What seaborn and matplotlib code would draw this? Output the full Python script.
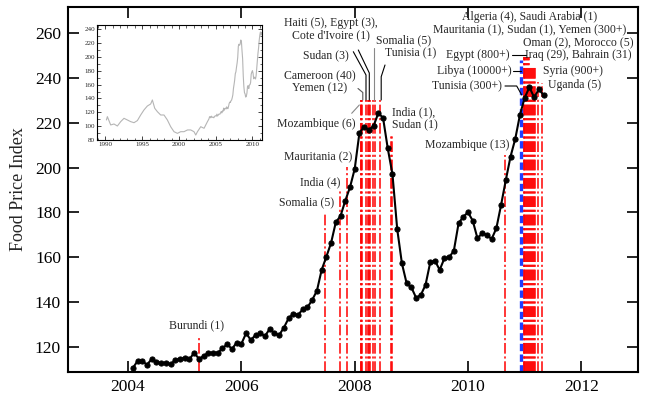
import numpy as np
import pandas as pd
import matplotlib
matplotlib.use("Agg")
import matplotlib.pyplot as plt
import seaborn as sns
from matplotlib.lines import Line2D

# ---------------- data ----------------
# Monthly FAO Food Price Index, Feb 2004 .. May 2011
start_year = 2004
start_month = 2
fpi = [110.4, 113.6, 113.6, 112.0, 114.4, 113.3, 112.6, 112.9, 112.1, 114.1, 114.6,
       115.0, 114.4, 117.3, 114.6, 115.8, 117.3, 117.3, 117.3, 119.3, 121.1, 119.0, 121.8,
       121.3, 126.0, 123.0, 125.2, 126.0, 124.8, 127.9, 126.0, 125.2, 128.5, 132.7, 134.7,
       134.2, 136.7, 137.6, 140.9, 145.0, 154.3, 160.2, 166.4, 175.6, 178.4, 185.2, 191.2,
       199.4, 215.5, 218.3, 216.8, 218.7, 224.3, 222.3, 208.6, 197.0, 172.6, 157.2, 148.3,
       146.5, 141.9, 143.1, 147.6, 157.7, 158.4, 154.3, 159.5, 159.9, 162.9, 175.1, 178.1,
       180.0, 176.3, 168.4, 170.7, 169.9, 168.1, 172.9, 183.3, 194.4, 204.9, 212.8, 223.6,
       231.2, 235.9, 231.4, 235.0, 232.4]

# Riot events (date, top of marker line)
event_dates = [2005.252, 2007.481, 2007.746, 2007.862,
               2008.105, 2008.118, 2008.134, 2008.205, 2008.228, 2008.25, 2008.262,
               2008.33, 2008.351, 2008.44, 2008.645, 2008.655,
               2010.661,
               2010.98, 2010.995, 2011.01, 2011.025, 2011.04, 2011.055, 2011.07,
               2011.10, 2011.115, 2011.13, 2011.145, 2011.16, 2011.175,
               2011.232, 2011.309]
event_tops = [124.8, 180.3, 190.0, 200.3,
              230.0, 230.0, 230.0, 230.0, 230.0, 230.0, 230.0,
              230.0, 230.0, 230.0, 214.6, 214.6,
              205.6,
              249.3, 249.3, 249.3, 249.3, 249.3, 249.3, 249.3,
              245.1, 245.1, 245.1, 245.1, 245.1, 245.1,
              238.4, 237.7]
blue_date = 2010.938
blue_top = 248.1

# Inset: long-run index 1990-2003 (2004 on is the main series)
inset_years_early = [1990.14, 1990.27, 1990.72, 1991.17, 1991.63, 1992.08, 1992.53, 1992.99,
                     1993.44, 1993.89, 1994.35, 1994.80, 1995.25, 1995.71, 1996.16, 1996.39,
                     1996.71, 1997.07, 1997.52, 1997.97, 1998.43, 1998.88, 1999.33, 1999.80,
                     2000.24, 2000.69, 2001.16, 2001.61, 2002.05, 2002.29, 2002.52, 2002.97,
                     2003.42, 2003.88]
inset_vals_early = [108.9, 113.7, 101.7, 103.1, 100.2, 106.5, 111.3, 108.9,
                    106.5, 105.0, 108.0, 116.1, 123.4, 129.1, 132.0, 137.8,
                    125.8, 120.9, 116.1, 116.1, 108.9, 99.2, 92.0, 89.6,
                    92.0, 92.0, 94.5, 94.5, 92.0, 87.2, 92.0, 99.2,
                    96.9, 106.5]

dates = start_year + (start_month - 1 + np.arange(len(fpi))) / 12.0
main_df = pd.DataFrame({"date": dates, "fpi": fpi})
inset_df = pd.DataFrame({"year": list(inset_years_early) + list(dates),
                         "value": list(inset_vals_early) + list(fpi)})

# ---------------- style ----------------
sns.set_theme(style="ticks")
plt.rcParams["font.family"] = ["Liberation Serif", "DejaVu Serif"]
plt.rcParams["axes.linewidth"] = 1.5

W, H = 645, 399
fig = plt.figure(figsize=(W / 100, H / 100), dpi=100)
ax = fig.add_axes([68 / W, 1 - 372 / H, (638 - 68) / W, (372 - 7) / H])
XL = (2002.94, 2013.0)
YL = (108.7, 271.75)
ax.set_xlim(*XL)
ax.set_ylim(*YL)

ax.vlines(event_dates, YL[0], event_tops, colors="#ff0000",
          linestyles=[(0, (7, 1.8, 1.4, 1.8))], linewidth=1.1, zorder=1)
ax.vlines([blue_date], YL[0], [blue_top], colors="#1f3cff",
          linestyles=[(0, (2.2, 1.0))], linewidth=2.4, zorder=2)

sns.lineplot(data=main_df, x="date", y="fpi", ax=ax, color="black", linewidth=1.5,
             marker="o", markersize=3.7, markeredgecolor="black", estimator=None, zorder=3)

ax.set_xticks([2004, 2006, 2008, 2010, 2012])
ax.set_yticks(range(120, 261, 20))
ax.tick_params(direction="in", length=8, width=1.2, top=True, right=True,
               labelsize=12.5, pad=5, colors="black")
ax.set_xlabel("")
ax.set_ylabel("Food Price Index", fontsize=13, labelpad=6)
for s in ax.spines.values():
    s.set_linewidth(1.5)
    s.set_color("black")

# ---------------- annotations (pixel layout) ----------------
def ftext(x, y, s, ha="center", **kw):
    fig.text(x / W, 1 - y / H, s, ha=ha, va="center", fontsize=8.5,
             linespacing=1.02, **kw)

ftext(331, 29, "Haiti (5), Egypt (3),\nCote d'Ivoire (1)")
ftext(404, 40, "Somalia (5)")
ftext(325.7, 55, "Sudan (3)")
ftext(410.5, 53, "Tunisia (1)")
ftext(320, 82, "Cameroon (40)\nYemen (12)")
ftext(316, 124.5, "Mozambique (6)")
ftext(392.5, 118, "India (1),\nSudan (1)", ha="left", multialignment="left")
ftext(352.7, 157, "Mauritania (2)", ha="right")
ftext(340, 182.5, "India (4)", ha="right")
ftext(334, 202.5, "Somalia (5)", ha="right")
ftext(196.8, 325, "Burundi (1)")
ftext(509.3, 145, "Mozambique (13)", ha="right")
ftext(529.5, 23, "Algeria (4), Saudi Arabia (1)\nMauritania (1), Sudan (1), Yemen (300+)")
ftext(578.3, 49, "Oman (2), Morocco (5)\nIraq (29), Bahrain (31)")
ftext(510, 55, "Egypt (800+)", ha="right")
ftext(511.7, 71, "Libya (10000+)", ha="right")
ftext(542.7, 71, "Syria (900+)", ha="left")
ftext(501.7, 86, "Tunisia (300+)", ha="right")
ftext(548.3, 85, "Uganda (5)", ha="left")

pointers = [
    ([353.3, 366.0, 366.0], [51.7, 75, 100], "black"),
    ([358.3, 369.3, 369.3], [50, 73, 100], "black"),
    ([374.3, 374.3], [48.3, 100], "#888888"),
    ([385, 381.2, 381.2], [65, 76.7, 100], "black"),
    ([358, 362.8, 362.8], [88.5, 92.5, 100], "#555555"),
    ([351.7, 359.3], [113.3, 105], "#888888"),
    ([511.7, 526], [55, 55], "black"),
    ([513, 521], [71, 71], "black"),
    ([505, 516.7, 521.7], [86, 86, 95], "black"),
]
for xs, ys, c in pointers:
    fig.add_artist(Line2D([x / W for x in xs], [1 - y / H for y in ys],
                          color=c, linewidth=0.8, transform=fig.transFigure, zorder=5))

# ---------------- inset ----------------
axin = fig.add_axes([97.3 / W, 1 - 140 / H, (262 - 97.3) / W, 115 / H])
sns.lineplot(data=inset_df, x="year", y="value", ax=axin, color="#b5b5b5",
             linewidth=0.8, estimator=None)
axin.set_xlim(1988.9, 2011.3)
axin.set_ylim(80, 246)
axin.set_xticks([1990, 1995, 2000, 2005, 2010])
axin.set_xticks(np.arange(1989, 2012, 1), minor=True)
axin.set_yticks(range(80, 241, 20))
axin.set_yticks(range(80, 246, 10), minor=True)
axin.tick_params(which="major", direction="in", length=3, width=0.6, top=True,
                 right=True, labelsize=5, pad=1.5)
axin.tick_params(which="minor", direction="in", length=1.8, width=0.5, top=True,
                 right=True)
axin.set_xlabel("")
axin.set_ylabel("")
for s in axin.spines.values():
    s.set_linewidth(0.8)
    s.set_color("black")

fig.savefig("out.png", dpi=100)
